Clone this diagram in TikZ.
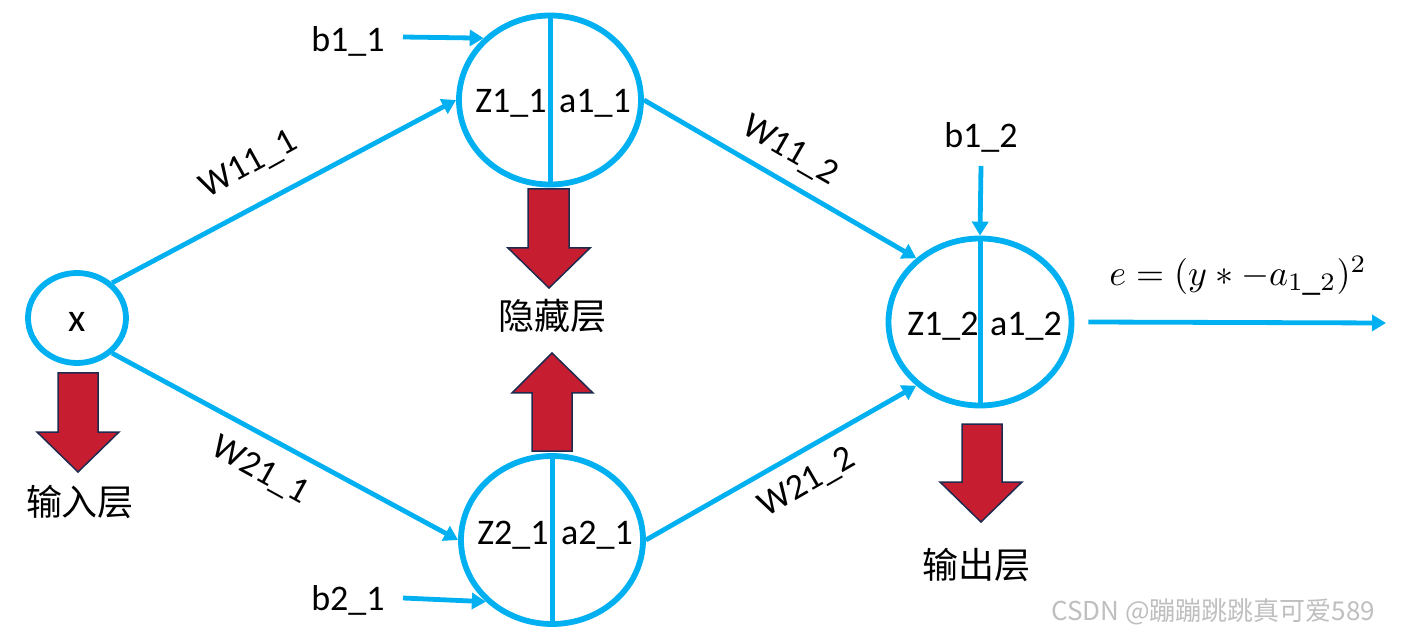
\documentclass[tikz,border=0pt]{standalone}
\usepackage{fontspec}
\setmainfont{Carlito}
\newfontfamily\cjk{Noto Sans CJK SC}
\usetikzlibrary{shapes.geometric,arrows.meta}
\definecolor{lineblue}{HTML}{00B0F0}
\definecolor{blockred}{HTML}{C61E30}
\definecolor{blockedge}{HTML}{1F2A4F}
\begin{document}
\begin{tikzpicture}[x=1pt,y=-1pt,
  neuron/.style={draw=lineblue,line width=5.8pt,ellipse,inner sep=0pt},
  divider/.style={draw=lineblue,line width=5pt},
  conn/.style={draw=lineblue,line width=4.8pt,-{Triangle[length=14pt,width=16pt]}},
  txt/.style={font=\fontsize{36}{40}\selectfont,inner sep=0pt},
  cjktxt/.style={font=\cjk\fontsize{36}{40}\selectfont,inner sep=0pt},
  blockarrow/.style={fill=blockred,draw=blockedge,line width=1.5pt,line join=miter}]
\useasboundingbox (0,0) rectangle (1401,644);
% neurons
\node[neuron,minimum width=98pt,minimum height=90pt] (x) at (77,318) {};
\node[txt,font=\fontsize{40}{44}\selectfont] (xl) at (77,322) {x};
\node[neuron,minimum width=182pt,minimum height=169pt] (h1) at (550,100) {};
\node[neuron,minimum width=182pt,minimum height=168pt] (h2) at (552,540) {};
\node[neuron,minimum width=183pt,minimum height=167pt] (o) at (980,322) {};
\draw[divider] (h1.north) -- (h1.south);
\draw[divider] (h2.north) -- (h2.south);
\draw[divider] (o.north) -- (o.south);
\node[txt] (z11) at (511,103) {Z1\_1};
\node[txt] (a11) at (595,103) {a1\_1};
\node[txt] (z21) at (513,535) {Z2\_1};
\node[txt] (a21) at (597,535) {a2\_1};
\node[txt] (z12) at (943,326) {Z1\_2};
\node[txt] (a12) at (1026,326) {a1\_2};
% weighted connections
\draw[conn] (x.45) -- (h1.west);
\draw[conn] (x.-45) -- (h2.west);
\draw[conn] (h1.east) -- (o.135);
\draw[conn] (h2.east) -- (o.-135);
\node[txt,rotate=29] (w111) at (249,165) {W11\_1};
\node[txt,rotate=-29] (w211) at (260,471) {W21\_1};
\node[txt,rotate=-30] (w112) at (790,151) {W11\_2};
\node[txt,rotate=30] (w212) at (807,483) {W21\_2};
% biases
\node[txt] (b11) at (348,41) {b1\_1};
\node[txt] (b21) at (348,600) {b2\_1};
\node[txt] (b12) at (981,137) {b1\_2};
\coordinate (b11s) at (403,37);
\coordinate (b21s) at (403,598);
\coordinate (b12s) at (981,166);
\draw[conn] (b11s) -- (h1.137);
\draw[conn] (b21s) -- (h2.223);
\draw[conn] (b12s) -- (o.north);
% output
\coordinate (outend) at (1386,323);
\draw[conn] ([xshift=14pt]o.east) -- (outend);
\node[inner sep=0pt,scale=3.6,transform shape] (eq) at (1238,276) {$e=(y*-a_{1\_2})^2$};
% block arrows
\draw[blockarrow] (58,373) -- (98,373) -- (98,432) -- (119,432) -- (78,472) -- (37,432) -- (58,432) -- cycle;
\draw[blockarrow] (528,189) -- (569,189) -- (569,248) -- (590,248) -- (549,288) -- (508,248) -- (528,248) -- cycle;
\draw[blockarrow] (532,451) -- (572,451) -- (572,393) -- (593,393) -- (552,353) -- (512,393) -- (532,393) -- cycle;
\draw[blockarrow] (962,424) -- (1002,424) -- (1002,482) -- (1022,482) -- (981,522) -- (940,482) -- (962,482) -- cycle;
% layer names
\node[cjktxt] (inl) at (80,502) {输入层};
\node[cjktxt] (hidl) at (552,316) {隐藏层};
\node[cjktxt] (outl) at (976,565) {输出层};
% watermark
\node[inner sep=0pt,text=black!25,font=\cjk\fontsize{26}{28}\selectfont] (wm) at (1213,612) {CSDN @蹦蹦跳跳真可爱589};
\end{tikzpicture}
\end{document}
